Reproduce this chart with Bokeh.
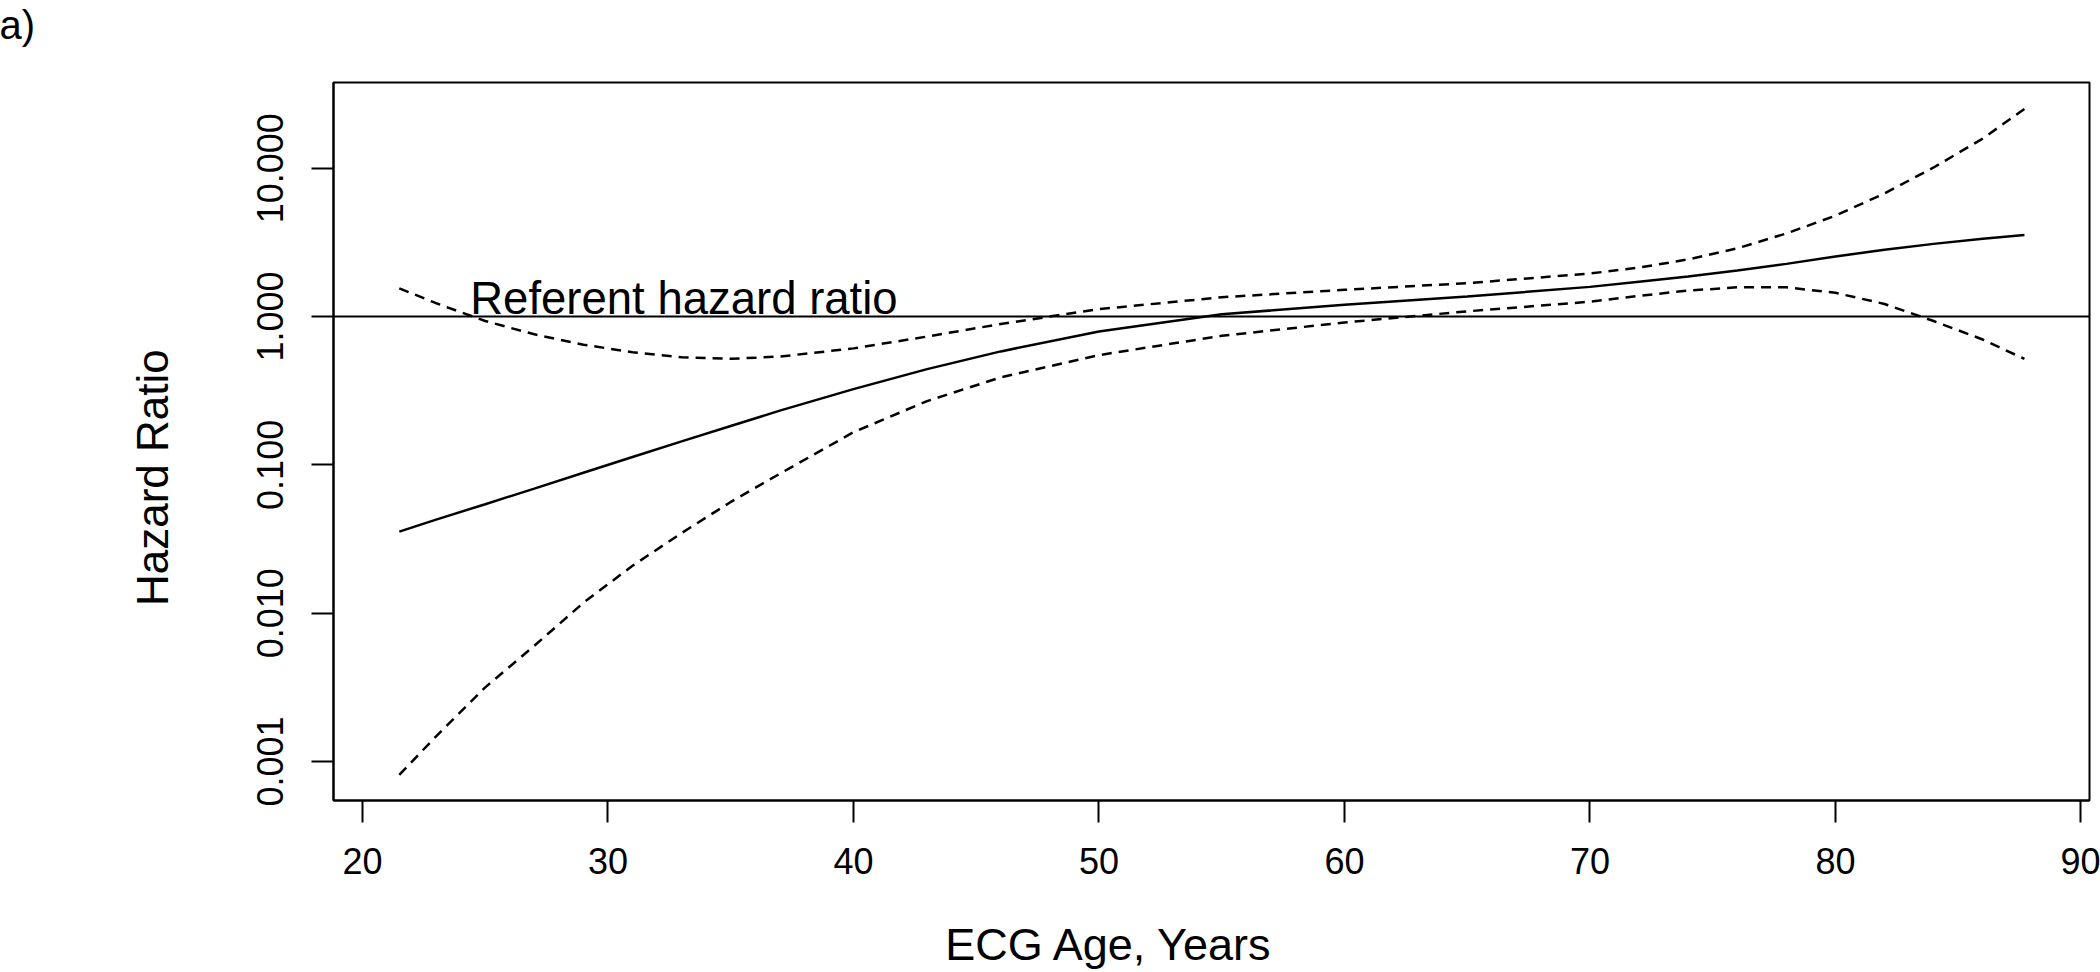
import json
from bokeh.plotting import figure
from bokeh.models import (Range1d, FixedTicker, NumeralTickFormatter, Span, Label, Title,
                          LinearAxis, LogAxis, CustomJSTickFormatter)
from bokeh.embed import file_html
from bokeh.resources import INLINE

# ---- data ----
ages = [21.5, 23, 25, 27, 29, 31, 33, 35, 37, 40, 43, 46, 50, 55, 60, 65, 70, 72, 74, 76, 78, 80, 82, 84, 86, 87.7]
hr = [0.0355, 0.0427, 0.0543, 0.0692, 0.0885, 0.113, 0.144, 0.183, 0.232, 0.324, 0.442, 0.582, 0.794,
      1.035, 1.202, 1.365, 1.585, 1.718, 1.862, 2.042, 2.265, 2.541, 2.818, 3.090, 3.350, 3.548]
hr_upper = [1.549, 1.230, 0.933, 0.759, 0.646, 0.575, 0.531, 0.519, 0.537, 0.610, 0.733, 0.891, 1.122,
            1.349, 1.514, 1.679, 1.950, 2.138, 2.427, 2.884, 3.631, 4.786, 6.761, 10.12, 15.85, 25.12]
hr_lower = [0.000813, 0.001479, 0.003162, 0.006026, 0.01175, 0.02089, 0.03467, 0.05623, 0.08710, 0.1660,
            0.2692, 0.3890, 0.5495, 0.7413, 0.9120, 1.084, 1.259, 1.380, 1.496, 1.574, 1.574, 1.445,
            1.216, 0.933, 0.700, 0.518]
referent = 1.0
x_ticks = [20, 30, 40, 50, 60, 70, 80, 90]
y_ticks = [0.001, 0.01, 0.1, 1, 10]
y_tick_labels = ["0.001", "0.010", "0.100", "1.000", "10.000"]
x_title = "ECG Age, Years"
y_title = "Hazard Ratio"
ref_text = "Referent hazard ratio"
panel_tag = "a)"

FONT = "Liberation Sans"

p = figure(width=2100, height=972, output_backend="svg", toolbar_location=None,
           y_axis_type="log",
           x_range=Range1d(18.82, 90.35),
           y_range=Range1d(10 ** -3.263, 10 ** 1.578),
           min_border_left=333, min_border_right=11, min_border_top=82, min_border_bottom=165)

p.background_fill_color = "white"
p.border_fill_color = "white"
p.outline_line_color = "black"
p.outline_line_width = 2
p.grid.visible = False

for ax in (p.xaxis[0], p.yaxis[0]):
    ax.axis_line_color = "black"
    ax.axis_line_width = 2
    ax.major_tick_line_color = "black"
    ax.major_tick_line_width = 2
    ax.major_tick_out = 22
    ax.major_tick_in = 0
    ax.minor_tick_line_color = None
    ax.major_label_text_color = "black"
    ax.major_label_text_font = FONT
    ax.major_label_text_font_size = "36px"

p.xaxis.ticker = FixedTicker(ticks=x_ticks)
p.xaxis.major_label_standoff = 25

p.yaxis.ticker = FixedTicker(ticks=y_ticks)
p.yaxis.formatter = NumeralTickFormatter(format="0.000")
p.yaxis.major_label_overrides = {t: l for t, l in zip(y_ticks, y_tick_labels)}
p.yaxis.major_label_orientation = "vertical"
p.yaxis.major_label_standoff = 28


def title_axis(cls, pos, text, standoff, size, **kw):
    return cls(ticker=FixedTicker(ticks=[pos]),
               formatter=CustomJSTickFormatter(code="return %s;" % json.dumps(text)),
               axis_line_color=None, major_tick_line_color=None, minor_tick_line_color=None,
               major_tick_out=0, major_tick_in=0, major_label_standoff=standoff,
               major_label_text_font=FONT, major_label_text_font_size=size,
               major_label_text_color="black", **kw)


# axis titles drawn as the single tick label of an extra, line-less axis
p.add_layout(title_axis(LinearAxis, 50.43, x_title, 42, "45px"), "below")
p.add_layout(title_axis(LogAxis, 0.0820, y_title, 77, "44px", major_label_orientation="vertical"), "left")

# spacer panel between frame and the panel tag
p.add_layout(Title(text=" ", text_font_size="1px", standoff=31), "above")

# panel tag
p.title.text = panel_tag
p.title.align = "left"
p.title.offset = -334
p.title.vertical_align = "top"
p.title.standoff = 0
p.title.text_font = FONT
p.title.text_font_size = "40px"
p.title.text_font_style = "normal"
p.title.text_color = "black"

# referent line
p.add_layout(Span(location=referent, dimension="width", line_color="black", line_width=2))

# curves
p.line(ages, hr, line_color="black", line_width=2.5)
p.line(ages, hr_upper, line_color="black", line_width=2.5, line_dash="10 7")
p.line(ages, hr_lower, line_color="black", line_width=2.5, line_dash="10 7")

p.add_layout(Label(x=24.39, y=1.322, text=ref_text, text_font=FONT, text_font_size="45.5px",
                   text_color="black", text_baseline="alphabetic", text_align="left"))

open("out.html", "w").write(file_html(p, INLINE))
